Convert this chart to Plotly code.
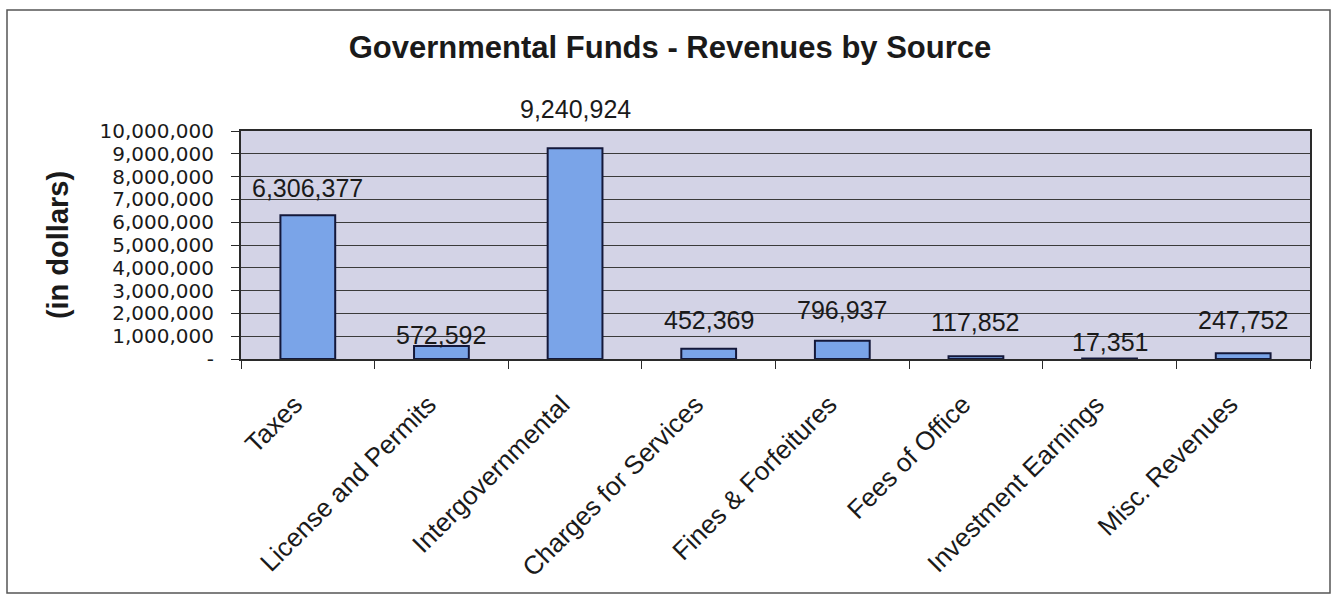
import plotly.graph_objects as go

categories = ["Taxes", "License and Permits", "Intergovernmental", "Charges for Services",
              "Fines & Forfeitures", "Fees of Office", "Investment Earnings", "Misc. Revenues"]
revenues = [6306377, 572592, 9240924, 452369, 796937, 117852, 17351, 247752]
tick_values = [0, 1000000, 2000000, 3000000, 4000000, 5000000, 6000000, 7000000, 8000000, 9000000, 10000000]
tick_labels = ["-", "1,000,000", "2,000,000", "3,000,000", "4,000,000", "5,000,000",
               "6,000,000", "7,000,000", "8,000,000", "9,000,000", "10,000,000"]

# label offsets above bar tops (pixels) to mimic the original placement
label_shift = [27, 11, 39, 29, 31, 34, 17, 33]

FONT = "Liberation Sans, Arial, sans-serif"

fig = go.Figure()
fig.add_trace(go.Bar(
    x=categories, y=revenues, width=0.41,
    marker=dict(color="#7aa4e8", line=dict(color="#14183a", width=2)),
    hoverinfo="x+y",
))

for c, v, s in zip(categories, revenues, label_shift):
    fig.add_annotation(x=c, y=v, text=f"{v:,}", showarrow=False, yshift=s,
                       font=dict(family=FONT, size=25, color="#1a1a1a"), yanchor="middle")

L, R, T, B = 241, 26, 131, 242
W, H = 1336, 601
pw, ph = W - L - R, H - T - B

fig.add_shape(type="rect", xref="paper", yref="paper",
              x0=(7 - L) / pw, x1=(1330 - L) / pw,
              y0=((H - B) - 593) / ph, y1=((H - B) - 10) / ph,
              line=dict(color="#555555", width=1.5), fillcolor="rgba(0,0,0,0)", layer="below")

fig.update_layout(
    width=W, height=H,
    margin=dict(l=L, r=R, t=T, b=B),
    paper_bgcolor="white", plot_bgcolor="#d3d3e6",
    showlegend=False,
    title=dict(text="<b>Governmental Funds - Revenues by Source</b>", x=(670 - L) / pw, xref="paper",
               xanchor="center", y=1 - 47 / H, yanchor="middle",
               font=dict(family=FONT, size=31, color="#1a1a1a")),
    font=dict(family=FONT, color="#1a1a1a"),
)

fig.update_yaxes(range=[0, 10000000], tickvals=tick_values, ticktext=tick_labels,
                 tickfont=dict(size=20, family="DejaVu Sans, sans-serif", color="#1a1a1a"),
                 showgrid=True, gridcolor="#3a3a3a", gridwidth=1,
                 showline=True, linecolor="#2a2a2a", linewidth=2, mirror=True,
                 ticks="outside", ticklen=8, tickcolor="#2a2a2a",
                 ticklabelstandoff=13,
                 zeroline=False,
                 title=dict(text="<b>(in dollars)</b>", font=dict(size=29, family=FONT, color="#1a1a1a"),
                            standoff=22))
fig.update_xaxes(tickangle=-45, tickfont=dict(size=26, family=FONT, color="#1a1a1a"),
                 showline=True, linecolor="#2a2a2a", linewidth=2, mirror=True,
                 ticks="outside", tickson="boundaries", ticklen=8, tickcolor="#2a2a2a",
                 ticklabelstandoff=18, ticklabelshift=-13,
                 showgrid=False)

fig.write_html("out.html")
